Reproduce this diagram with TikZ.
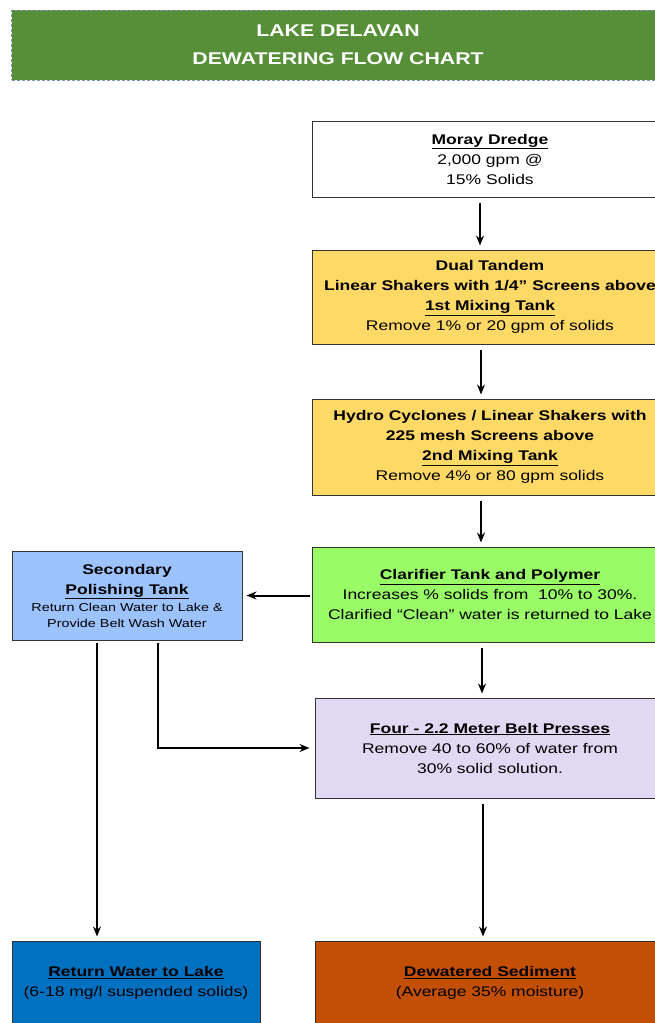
\documentclass[tikz,border=0pt]{standalone}
\usepackage{fontspec}
\setmainfont{Liberation Sans}[FakeStretch=1.25]
\usepackage{tikz}
\usetikzlibrary{arrows.meta, positioning, calc}

\definecolor{titlegreen}{HTML}{568F38}
\definecolor{titleedge}{HTML}{7F95B8}
\definecolor{shaker}{HTML}{FFD966}
\definecolor{clarif}{HTML}{99FB66}
\definecolor{polish}{HTML}{9DC3FF}
\definecolor{press}{HTML}{E1D9F3}
\definecolor{lakeblue}{HTML}{0070C0}
\definecolor{sediment}{HTML}{C24F04}

\begin{document}
\begin{tikzpicture}[
  x=1pt, y=-1pt,
  box/.style={draw=black!80, line width=1pt, align=center, inner sep=0pt,
    font=\fontsize{14}{20}\selectfont},
  flow/.style={draw, line width=2pt, -{Stealth[length=10pt,width=8pt]},
    shorten <=5pt, shorten >=4pt}
  ]
  \useasboundingbox (0,0) rectangle (655,1023);
  \clip (0,0) rectangle (655,1023);
  % title bar
  \node[draw=titleedge, densely dashed, line width=0.6pt, fill=titlegreen, text=white,
    align=center, minimum width=653pt, minimum height=70pt,
    font=\fontsize{17}{28}\selectfont\bfseries] (title) at (338,45)
    {LAKE DELAVAN\\DEWATERING FLOW CHART};
  % main column
  \node[box, fill=white, minimum width=356pt, minimum height=76pt] (dredge) at (490,159)
    {\textbf{\underline{Moray Dredge}}\\2,000 gpm @\\15\% Solids};
  \node[box, fill=shaker, minimum width=356pt, minimum height=94pt] (shake1) at (490,297)
    {\textbf{Dual Tandem}\\\textbf{Linear Shakers with 1/4” Screens above}\\
     \textbf{\underline{1st Mixing Tank}}\\Remove 1\% or 20 gpm of solids};
  \node[box, fill=shaker, minimum width=356pt, minimum height=96pt] (shake2) at (490,447)
    {\textbf{Hydro Cyclones / Linear Shakers with}\\\textbf{225 mesh Screens above}\\
     \textbf{\underline{2nd Mixing Tank}}\\Remove 4\% or 80 gpm solids};
  \node[box, fill=clarif, minimum width=356pt, minimum height=95pt] (clarifier) at (490,594.5)
    {\textbf{\underline{Clarifier Tank and Polymer}}\\Increases \% solids from\ \ 10\% to 30\%.\\
     Clarified “Clean” water is returned to Lake};
  \node[box, fill=press, minimum width=350pt, minimum height=100pt] (belts) at (490,748)
    {\textbf{\underline{Four - 2.2 Meter Belt Presses}}\\Remove 40 to 60\% of water from\\
     30\% solid solution.};
  \node[box, fill=sediment, minimum width=350pt, minimum height=84pt] (sediment) at (490,983)
    {\textbf{\underline{Dewatered Sediment}}\\(Average 35\% moisture)};
  % water side
  \node[box, fill=polish, minimum width=230pt, minimum height=89pt] (polishing) at (127,595.5)
    {\textbf{Secondary}\\\textbf{\underline{Polishing Tank}}\\[-3pt]
     {\fontsize{11.5}{16}\selectfont Return Clean Water to Lake \&}\\[-4pt]
     {\fontsize{11.5}{16}\selectfont Provide Belt Wash Water}};
  \node[box, fill=lakeblue, minimum width=248pt, minimum height=84pt] (lake) at (136,983)
    {\textbf{\underline{Return Water to Lake}}\\(6-18 mg/l suspended solids)};
  % connectors
  \draw[flow] ([xshift=-10pt]dredge.south) -- ([xshift=-10pt]shake1.north);
  \draw[flow] ([xshift=-9pt]shake1.south) -- ([xshift=-9pt]shake2.north);
  \draw[flow] ([xshift=-9pt]shake2.south) -- ([xshift=-9pt]clarifier.north);
  \draw[flow, shorten <=2pt] (clarifier.west |- polishing.east) -- (polishing.east);
  \draw[flow] ([xshift=-8pt]clarifier.south) -- ([xshift=-8pt]belts.north);
  \draw[flow] ([xshift=-7pt]belts.south) -- ([xshift=-7pt]sediment.north);
  \draw[flow, shorten <=2pt] ([xshift=-30pt]polishing.south) -- ([xshift=-30pt]polishing.south |- lake.north);
  \draw[flow, shorten <=2pt, shorten >=5pt] ([xshift=31pt]polishing.south) |- (belts.west);
\end{tikzpicture}
\end{document}
